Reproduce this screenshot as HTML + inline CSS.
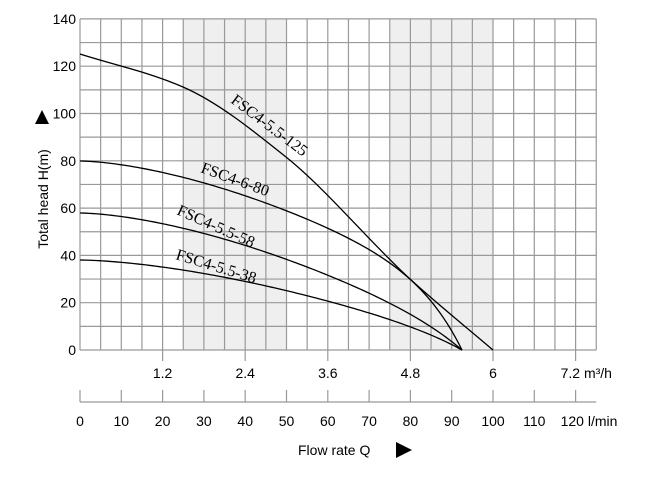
<!DOCTYPE html>
<html><head><meta charset="utf-8"><style>
html,body{margin:0;padding:0;background:#fff}
svg{display:block}
.s{font-family:"Liberation Sans",sans-serif;font-size:14px;fill:#000}
.t{font-family:"Liberation Serif",serif;font-size:16px;fill:#000}
</style></head><body>
<svg id="c" width="660" height="479" xmlns="http://www.w3.org/2000/svg">
<rect x="183.3" y="19" width="103.2" height="331" fill="#efefef"/>
<rect x="390.2" y="19" width="103.2" height="331" fill="#efefef"/>
<g id="grid" stroke="#999" stroke-width="1.2" fill="none"></g>
<g id="curves" stroke="#000" stroke-width="1.3" fill="none" stroke-linejoin="round"></g>
<g id="lbl"></g>
<text class="t" transform="translate(230,102) rotate(37)">FSC4-5.5-125</text>
<text class="t" transform="translate(200,172) rotate(20)">FSC4-6-80</text>
<text class="t" transform="translate(176,214) rotate(24)">FSC4-5.5-58</text>
<text class="t" transform="translate(175,259) rotate(17)">FSC4-5.5-38</text>
<text class="s" font-size="17" transform="translate(48,199) rotate(-90)" text-anchor="middle">Total head H(m)</text>
<polygon points="35,124 49,124 42,110" fill="#000"/>
<text class="s" x="298" y="455" font-size="16">Flow rate Q</text>
<polygon points="396,442 396,458 412,450" fill="#000"/>
</svg>
<script>
var NS="http://www.w3.org/2000/svg";
function el(p,n,a,t){var e=document.createElementNS(NS,n);for(var k in a)e.setAttribute(k,a[k]);if(t!=null)e.textContent=t;p.appendChild(e);return e;}
var g=document.getElementById('grid'),L=document.getElementById('lbl');
function X(q){return 80+q*4.13;}
function Y(h){return 350-h*2.365;}
for(var q=0;q<=125;q+=5)el(g,'line',{x1:X(q),x2:X(q),y1:Y(140),y2:350});
for(var h=0;h<=140;h+=10)el(g,'line',{x1:80,x2:X(125),y1:Y(h),y2:Y(h)});
for(var h=0;h<=140;h+=20)el(L,'text',{'class':'s',x:76,y:Y(h)+5,'text-anchor':'end','font-size':15},String(h));
var m=['1.2','2.4','3.6','4.8','6'];
for(var i=0;i<5;i++){var x=X(20*(i+1));el(g,'line',{x1:x,x2:x,y1:350,y2:361});el(L,'text',{'class':'s',x:x,y:378,'text-anchor':'middle','font-size':14},m[i]);}
var x7=X(120);el(g,'line',{x1:x7,x2:x7,y1:350,y2:361});
el(L,'text',{'class':'s',x:x7-15,y:378,'font-size':14},'7.2 m³/h');
el(g,'line',{x1:80,x2:X(125),y1:402,y2:402});
for(var q=0;q<=120;q+=10){var x=X(q);el(g,'line',{x1:x,x2:x,y1:390,y2:402});
 if(q<120)el(L,'text',{'class':'s',x:x,y:426,'text-anchor':'middle','font-size':15},String(q));}
el(L,'text',{'class':'s',x:x7-15,y:426,'font-size':15},'120 l/min');
function mono(p){var n=p.length,d=[],m=[];
for(var i=0;i<n-1;i++)d.push((p[i+1][1]-p[i][1])/(p[i+1][0]-p[i][0]));
m[0]=d[0];m[n-1]=d[n-2];
for(var i=1;i<n-1;i++){m[i]=(d[i-1]*d[i]<=0)?0:2/(1/d[i-1]+1/d[i]);}
var s='M'+p[0][0]+','+p[0][1];
for(var i=0;i<n-1;i++){var h=(p[i+1][0]-p[i][0])/3;
s+=' C'+(p[i][0]+h)+','+(p[i][1]+m[i]*h)+' '+(p[i+1][0]-h)+','+(p[i+1][1]-m[i+1]*h)+' '+p[i+1][0]+','+p[i+1][1];}
return s;}
function fit(y0,xe,a,b){var s='';for(var i=0;i<=120;i++){var t=i/120,x=80+t*(xe-80),y=y0+a*Math.pow(t,1.6)+b*Math.pow(t,10);s+=(i?' L':'M')+x.toFixed(2)+','+y.toFixed(2);}return s;}
var C=document.getElementById('curves');
el(C,'path',{d:mono([[80,54],[183,87],[286,157],[410,279],[493,350]])});
el(C,'path',{d:fit(161,462,133,56)});
el(C,'path',{d:fit(213,462,124,13)});
el(C,'path',{d:fit(260,462,82,8)});
</script>
</body></html>
